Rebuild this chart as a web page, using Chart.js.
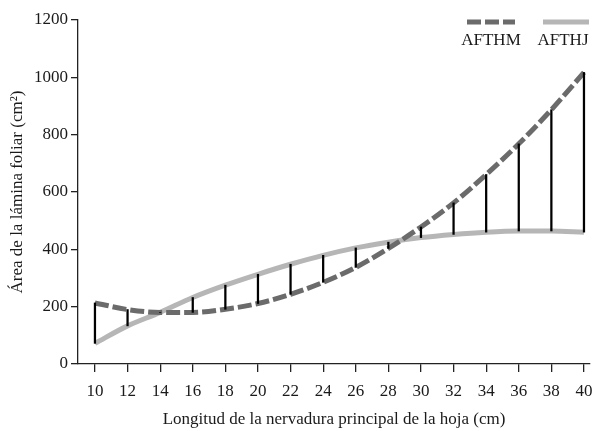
<!DOCTYPE html>
<html>
<head>
<meta charset="utf-8">
<script src="https://cdn.jsdelivr.net/npm/chart.js@4"></script>
<style>
  html, body { margin: 0; padding: 0; background: #fff; }
  #wrap { width: 593px; height: 431px; }
</style>
</head>
<body>
<div id="wrap"><canvas id="leafChart"></canvas></div>
<script>
const lengths = [10, 12, 14, 16, 18, 20, 22, 24, 26, 28, 30, 32, 34, 36, 38, 40];
const afthm = [213, 190, 180, 180, 191, 211, 243, 285, 337, 403, 478, 562, 661, 768, 887, 1017];
const afthj = [72, 133, 180, 232, 275, 313, 348, 379, 405, 425, 441, 452, 460, 464, 464, 460];
const xTicks = [10, 12, 14, 16, 18, 20, 22, 24, 26, 28, 30, 32, 34, 36, 38, 40];
const yTicks = [0, 200, 400, 600, 800, 1000, 1200];

const serif = "'Liberation Serif', 'Times New Roman', serif";
const inkColor = "#1a1a1a";

// legend drawn as sample line above the label, like the original figure
const topLegend = {
  id: "topLegend",
  afterDraw(chart) {
    const c = chart.ctx;
    const items = [
      { ds: chart.data.datasets[0], x0: 467, x1: 515, tx: 491 },
      { ds: chart.data.datasets[1], x0: 543, x1: 589, tx: 563 }
    ];
    c.save();
    items.forEach(it => {
      c.strokeStyle = it.ds.borderColor;
      c.lineWidth = it.ds.borderWidth;
      c.setLineDash(it.ds.borderDash || []);
      c.beginPath();
      c.moveTo(it.x0, 22);
      c.lineTo(it.x1, 22);
      c.stroke();
      c.setLineDash([]);
      c.fillStyle = inkColor;
      c.font = "17px " + serif;
      c.textAlign = "center";
      c.textBaseline = "middle";
      c.fillText(it.ds.label, it.tx, 41);
    });
    c.restore();
  }
};

new Chart(document.getElementById("leafChart"), {
  type: "bar",
  data: {
    datasets: [
      {
        type: "line",
        label: "AFTHM",
        data: lengths.map((x, i) => ({ x: x, y: afthm[i] })),
        borderColor: "#6b6b6b",
        borderWidth: 5,
        borderDash: [14, 4],
        pointRadius: 0,
        cubicInterpolationMode: "monotone",
        order: 2
      },
      {
        type: "line",
        label: "AFTHJ",
        data: lengths.map((x, i) => ({ x: x, y: afthj[i] })),
        borderColor: "#b6b6b6",
        borderWidth: 5,
        pointRadius: 0,
        cubicInterpolationMode: "monotone",
        order: 2
      },
      {
        label: "diff",
        data: lengths.map((x, i) => ({ x: x, y: [afthj[i], afthm[i]] })),
        backgroundColor: "#000",
        barThickness: 1.6,
        order: 1
      }
    ]
  },
  options: {
    responsive: true,
    maintainAspectRatio: false,
    animation: false,
    layout: { padding: { top: 20, right: 3, left: 0, bottom: 0 } },
    plugins: { legend: { display: false }, tooltip: { enabled: false } },
    scales: {
      x: {
        type: "linear",
        offset: false,
        min: 8.96,
        max: 40.37,
        afterBuildTicks: s => { s.ticks = xTicks.map(v => ({ value: v })); },
        afterFit: s => { s.height = 67; s.paddingLeft = 0; s.paddingRight = 0; },
        grid: { offset: false, drawOnChartArea: false, tickLength: 8, color: "#222", lineWidth: 1.3 },
        border: { color: "#222", width: 1.3 },
        ticks: { color: inkColor, font: { family: serif, size: 17 }, padding: 9, maxRotation: 0, autoSkip: false },
        title: { display: true, text: "Longitud de la nervadura principal de la hoja (cm)", color: inkColor, font: { family: serif, size: 17 }, padding: { top: 0, bottom: 1 } }
      },
      y: {
        min: 0,
        max: 1200,
        afterBuildTicks: s => { s.ticks = yTicks.map(v => ({ value: v })); },
        afterFit: s => { s.width = 78; s.paddingTop = 0; s.paddingBottom = 0; },
        grid: { drawOnChartArea: false, tickLength: 7, color: "#222", lineWidth: 1.3 },
        border: { color: "#222", width: 1.3 },
        ticks: { color: inkColor, font: { family: serif, size: 17 }, padding: 3, callback: v => String(v) },
        title: { display: true, text: "Área de la lámina foliar (cm²)", color: inkColor, font: { family: serif, size: 17 }, padding: { top: 7, bottom: 0 } }
      }
    }
  },
  plugins: [topLegend]
});
</script>
</body>
</html>
